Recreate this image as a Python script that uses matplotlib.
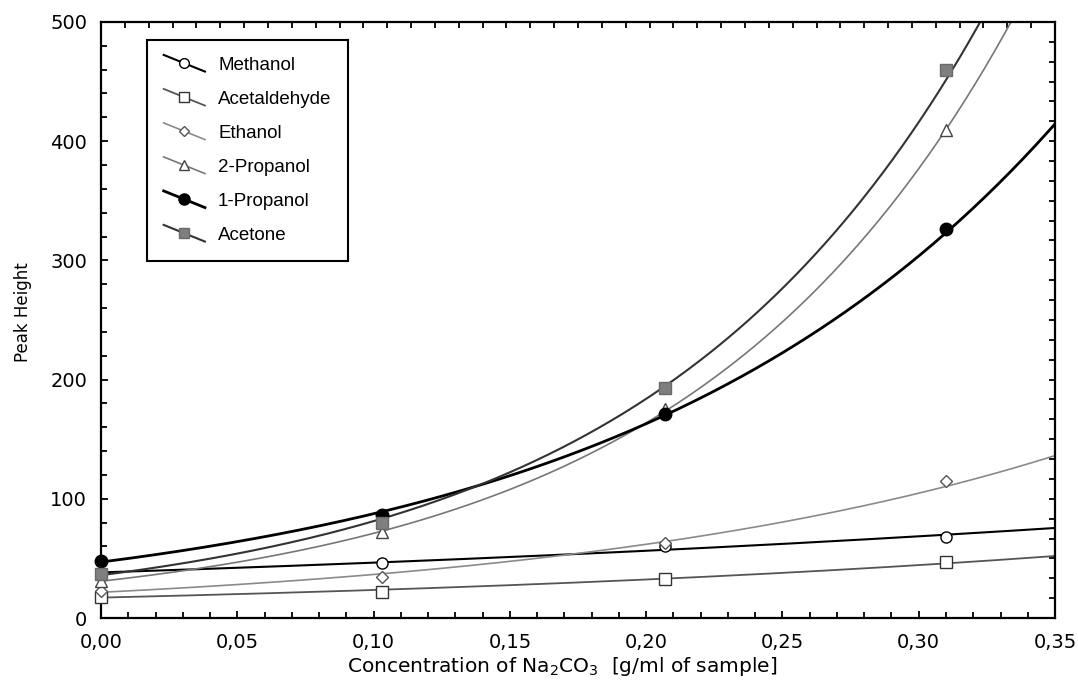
import numpy as np
import matplotlib
matplotlib.use("Agg")
import matplotlib.pyplot as plt
from matplotlib.legend_handler import HandlerLine2D
from matplotlib.ticker import FuncFormatter, MultipleLocator

# concentração de Na2CO3 (g/ml) e alturas de pico
conc = [0.0, 0.103, 0.207, 0.31]
methanol = [38, 46, 60, 68]
acetaldehyde = [18, 22, 33, 47]
ethanol = [23, 34, 63, 115]
propanol2 = [31, 72, 175, 409]
propanol1 = [48, 86, 171, 326]
acetone = [37, 80, 193, 460]

series = [
    ("Methanol", methanol, dict(color="black", lw=1.5, marker="o", mfc="white", mec="black", ms=8)),
    ("Acetaldehyde", acetaldehyde, dict(color="#555555", lw=1.3, marker="s", mfc="white", mec="#333333", ms=8)),
    ("Ethanol", ethanol, dict(color="#8a8a8a", lw=1.2, marker="D", mfc="white", mec="#555555", ms=6)),
    ("2-Propanol", propanol2, dict(color="#777777", lw=1.2, marker="^", mfc="white", mec="#444444", ms=8)),
    ("1-Propanol", propanol1, dict(color="black", lw=2.0, marker="o", mfc="black", mec="black", ms=9)),
    ("Acetone", acetone, dict(color="#333333", lw=1.5, marker="s", mfc="#7f7f7f", mec="#6a6a6a", ms=8)),
]


class HandlerInclinado(HandlerLine2D):
    """Linha da legenda desenhada em diagonal, como no original"""
    def create_artists(self, legend, orig_handle, xdescent, ydescent,
                       width, height, fontsize, trans):
        artistas = super().create_artists(legend, orig_handle, xdescent, ydescent,
                                          width, height, fontsize, trans)
        for a in artistas:
            x = np.asarray(a.get_xdata(), dtype=float)
            y = np.asarray(a.get_ydata(), dtype=float)
            xm = (x.min() + x.max()) / 2
            span = (x.max() - x.min()) or 1
            a.set_ydata(y - (x - xm) / span * 12)
        return artistas


fig = plt.figure(figsize=(10.78, 6.98), dpi=100)
ax = fig.add_axes([0.0937, 0.1146, 0.885, 0.854])

xs = np.linspace(0, 0.35, 300)
handles = []
for nome, valores, estilo in series:
    x = np.array(conc)
    y = np.array(valores, dtype=float)
    # ajuste exponencial y = a*exp(b*x) (regressão linear de log y)
    b, loga = np.polyfit(x, np.log(y), 1)
    ax.plot(xs, np.exp(loga) * np.exp(b * xs), color=estilo["color"], lw=estilo["lw"], zorder=2)
    ax.plot(x, y, ls="none", marker=estilo["marker"], mfc=estilo["mfc"], mec=estilo["mec"],
            ms=estilo["ms"], mew=1.0, zorder=3, clip_on=False)
    h, = ax.plot([], [], color=estilo["color"], lw=estilo["lw"], marker=estilo["marker"],
                 mfc=estilo["mfc"], mec=estilo["mec"], ms=estilo["ms"] - 1, mew=1.0)
    handles.append((h, nome))

ax.set_xlim(0, 0.35)
ax.set_ylim(0, 500)

ax.xaxis.set_major_locator(MultipleLocator(0.05))
ax.xaxis.set_minor_locator(MultipleLocator(0.01))
ax.yaxis.set_major_locator(MultipleLocator(100))
ax.yaxis.set_minor_locator(MultipleLocator(20))
ax.xaxis.set_major_formatter(FuncFormatter(lambda v, _: f"{v:.2f}".replace(".", ",")))
ax.tick_params(which="both", direction="in", width=1.3, labelsize=14)
ax.tick_params(which="major", length=5)
ax.tick_params(which="minor", length=4)
ax.tick_params(axis="x", which="major", pad=11)
ax.tick_params(axis="y", which="major", pad=10)
for lab in ax.get_xticklabels() + ax.get_yticklabels():
    lab.set_family("DejaVu Sans")

for s in ax.spines.values():
    s.set_linewidth(1.6)

# marcas nos eixos de cima e da direita (espaçamento próprio)
topo = ax.secondary_xaxis("top")
topo.set_xticks(np.linspace(0, 0.35, 41))
topo.tick_params(direction="in", length=4, width=1.3, labeltop=False)
topo.spines["top"].set_visible(False)
direita = ax.secondary_yaxis("right")
direita.set_yticks(np.linspace(0, 500, 31))
direita.tick_params(direction="in", length=4, width=1.3, labelright=False)
direita.spines["right"].set_visible(False)

ax.set_ylabel("Peak Height", fontsize=12, family="DejaVu Sans")
ax.set_xlabel(r"Concentration of Na$_2$CO$_3$  [g/ml of sample]", fontsize=14.5,
              family="DejaVu Sans")
ax.xaxis.set_label_coords(0.483, -0.062)
ax.yaxis.set_label_coords(-0.072, 0.513)

leg = ax.legend([h for h, _ in handles], [n for _, n in handles],
                handler_map={matplotlib.lines.Line2D: HandlerInclinado(numpoints=1)},
                loc="upper left", bbox_to_anchor=(0.048, 0.97), frameon=True,
                fancybox=False, edgecolor="black", framealpha=1,
                prop={"family": "Liberation Sans", "size": 13.5},
                handlelength=2.2, handletextpad=0.7, labelspacing=0.9,
                borderpad=0.9, borderaxespad=0)
leg.get_frame().set_linewidth(1.5)

plt.savefig("out.png", dpi=100)
